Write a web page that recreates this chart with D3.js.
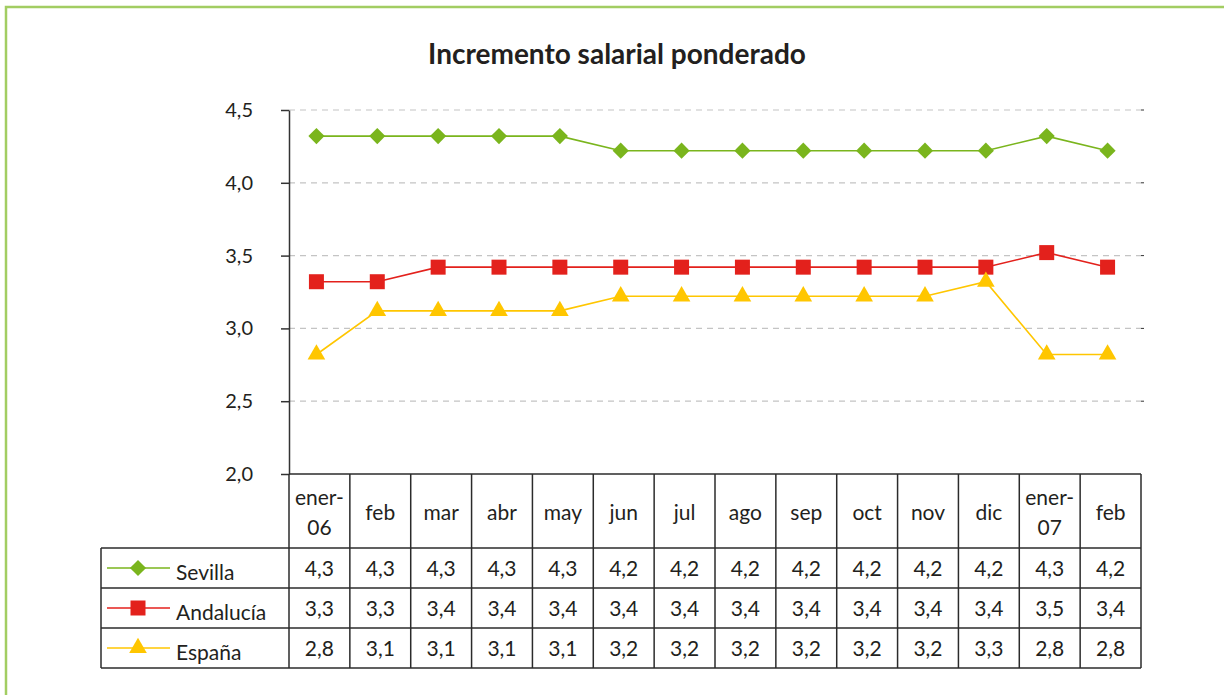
<!DOCTYPE html>
<html>
<head>
<meta charset="utf-8">
<script src="https://cdn.jsdelivr.net/npm/d3@7"></script>
<style>
  body { margin: 0; background: #fff; }
  text { font-family: Lato, "Open Sans", sans-serif; fill: #231f20; }
</style>
</head>
<body>
<svg id="chart" width="1224" height="695"></svg>
<script>
const months = [["ener-", "06"], ["feb"], ["mar"], ["abr"], ["may"], ["jun"], ["jul"], ["ago"], ["sep"], ["oct"], ["nov"], ["dic"], ["ener-", "07"], ["feb"]];
const sevilla = [4.3, 4.3, 4.3, 4.3, 4.3, 4.2, 4.2, 4.2, 4.2, 4.2, 4.2, 4.2, 4.3, 4.2];
const andalucia = [3.3, 3.3, 3.4, 3.4, 3.4, 3.4, 3.4, 3.4, 3.4, 3.4, 3.4, 3.4, 3.5, 3.4];
const espana = [2.8, 3.1, 3.1, 3.1, 3.1, 3.2, 3.2, 3.2, 3.2, 3.2, 3.2, 3.3, 2.8, 2.8];
const yTicks = [2.0, 2.5, 3.0, 3.5, 4.0, 4.5];

// diamond = square turned 45 degrees
const series = [
  { name: "Sevilla", values: sevilla, color: "#7ab51d", symbol: d3.symbolSquare, size: 130, rot: 45 },
  { name: "Andalucía", values: andalucia, color: "#e3211c", symbol: d3.symbolSquare, size: 225, rot: 0 },
  { name: "España", values: espana, color: "#ffc600", symbol: d3.symbolTriangle, size: 135, rot: 0 }
];

const svg = d3.select("#chart");
const comma = d => d3.format(".1f")(d).replace(".", ",");

const plotLeft = 289, plotRight = 1141, plotTop = 110, plotBottom = 474;
const tableLeft = 101, headerBottom = 548, rowH = 40;

const x = d3.scaleBand().domain(d3.range(months.length)).range([plotLeft, plotRight]);
const y = d3.scaleLinear().domain([2, 4.5]).range([plotBottom, plotTop]);

// frame
svg.append("path")
  .attr("d", "M6,695 L6,7 L1224,7")
  .attr("fill", "none").attr("stroke", "#a2cd62").attr("stroke-width", 2.5);

// title
svg.append("text")
  .attr("x", 617).attr("y", 64)
  .attr("text-anchor", "middle")
  .style("font-size", "28px").style("font-weight", "bold")
  .text("Incremento salarial ponderado");

// grid
svg.append("g").selectAll("line")
  .data(yTicks.filter(d => d > 2))
  .join("line")
  .attr("x1", plotLeft).attr("x2", plotRight)
  .attr("y1", d => y(d)).attr("y2", d => y(d))
  .attr("stroke", "#c4c4c4").attr("stroke-width", 1.2)
  .attr("stroke-dasharray", "6,5");

svg.append("g").selectAll("line")
  .data(yTicks.filter(d => d > 2))
  .join("line")
  .attr("x1", plotRight).attr("x2", plotRight + 3)
  .attr("y1", d => y(d)).attr("y2", d => y(d))
  .attr("stroke", "#333");

// y axis
const yAxis = svg.append("g")
  .attr("transform", `translate(${plotLeft},0)`)
  .call(d3.axisLeft(y).tickValues(yTicks).tickSize(8).tickSizeOuter(0).tickPadding(28).tickFormat(comma));
yAxis.select(".domain").attr("stroke", "#333").attr("stroke-width", 1.5);
yAxis.selectAll(".tick line").attr("stroke", "#333").attr("stroke-width", 1.5);
yAxis.selectAll(".tick text").style("font-size", "20px").style("font-family", "Lato, sans-serif").attr("fill", "#231f20");

// series
const plot = svg.append("g").attr("transform", "translate(-3,-3)");
const line = d3.line().x((d, i) => x(i) + x.bandwidth() / 2).y(d => y(d));

series.forEach(s => {
  plot.append("path")
    .datum(s.values)
    .attr("d", line)
    .attr("fill", "none").attr("stroke", s.color).attr("stroke-width", 1.6);
  plot.append("g").selectAll("path")
    .data(s.values)
    .join("path")
    .attr("transform", (d, i) => `translate(${x(i) + x.bandwidth() / 2},${y(d)}) rotate(${s.rot})`)
    .attr("d", d3.symbol().type(s.symbol).size(s.size))
    .attr("fill", s.color);
});

// table
const table = svg.append("g").attr("stroke", "#2b2b2b").attr("stroke-width", 1.5);
table.append("line").attr("x1", plotLeft).attr("x2", plotRight).attr("y1", plotBottom).attr("y2", plotBottom);
d3.range(4).forEach(r => {
  table.append("line")
    .attr("x1", tableLeft).attr("x2", plotRight)
    .attr("y1", headerBottom + r * rowH).attr("y2", headerBottom + r * rowH);
});
table.selectAll(".col")
  .data(d3.range(months.length + 1))
  .join("line")
  .attr("x1", i => i < months.length ? x(i) : plotRight)
  .attr("x2", i => i < months.length ? x(i) : plotRight)
  .attr("y1", plotBottom).attr("y2", headerBottom + 3 * rowH);
table.append("line")
  .attr("x1", tableLeft).attr("x2", tableLeft)
  .attr("y1", headerBottom).attr("y2", headerBottom + 3 * rowH);

// month labels
const header = svg.append("g");
months.forEach((m, i) => {
  const t = header.append("text")
    .attr("x", x(i) + x.bandwidth() / 2)
    .attr("text-anchor", "middle")
    .style("font-size", "21px");
  m.forEach((part, j) => {
    t.append("tspan")
      .attr("x", x(i) + x.bandwidth() / 2)
      .attr("y", m.length === 1 ? 520 : 505 + j * 30)
      .text(part);
  });
});

// rows: legend + values
series.forEach((s, r) => {
  const cy = headerBottom + r * rowH + rowH / 2;
  const g = svg.append("g");
  g.append("line")
    .attr("x1", 107).attr("x2", 170).attr("y1", cy).attr("y2", cy)
    .attr("stroke", s.color).attr("stroke-width", 1.6);
  g.append("path")
    .attr("transform", `translate(138,${cy}) rotate(${s.rot})`)
    .attr("d", d3.symbol().type(s.symbol).size(s.size))
    .attr("fill", s.color);
  g.append("text")
    .attr("x", 176).attr("y", cy + 12)
    .style("font-size", "21px")
    .text(s.name);
  g.selectAll(".v")
    .data(s.values)
    .join("text")
    .attr("x", (d, i) => x(i) + x.bandwidth() / 2)
    .attr("y", cy + 8)
    .attr("text-anchor", "middle")
    .style("font-size", "21px")
    .text(comma);
});
</script>
</body>
</html>
